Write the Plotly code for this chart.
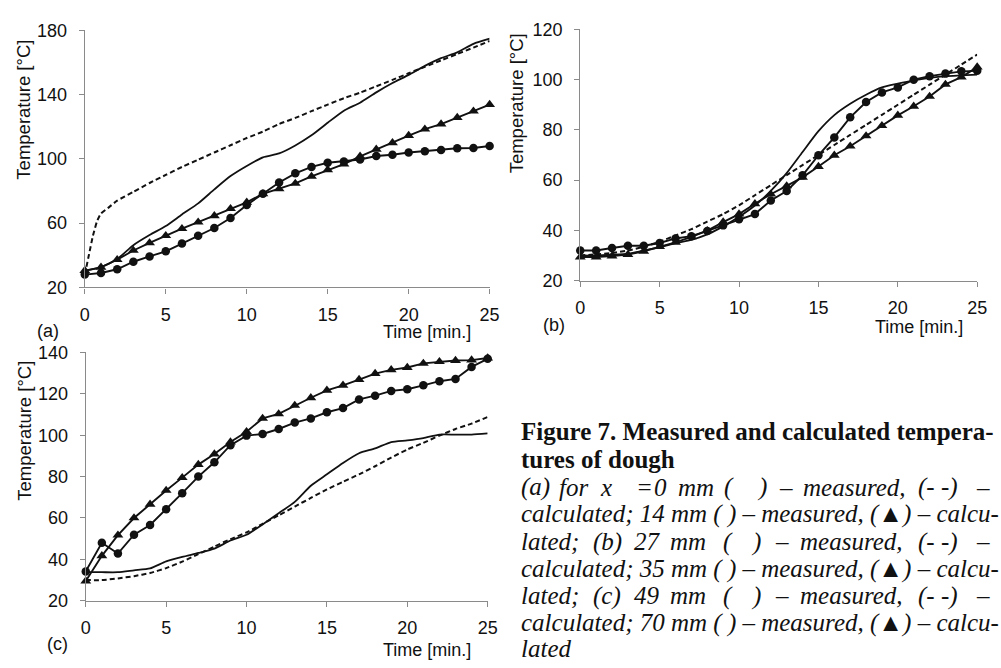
import plotly.graph_objects as go

W, H = 1001, 668

t = list(range(26))

# Panel (a)
a_meas_0mm = [30.5, 32.7, 37.7, 46.3, 52.6, 58.2, 65.4, 72.3, 81.0, 89.3, 95.6, 101.0, 103.4,
              108.4, 114.7, 122.5, 130.0, 135.0, 141.4, 147.2, 152.3, 157.9, 162.7, 166.3, 171.6, 174.8]
a_calc_0mm_t = [0, 0.25, 0.5, 0.75, 1, 1.5, 2, 3, 4, 5, 6, 7, 8, 9, 10, 11, 12, 13, 14, 15, 16,
                17, 18, 19, 20, 21, 22, 23, 24, 25]
a_calc_0mm = [28, 40, 52, 61, 66, 70, 74, 79.5, 85, 90, 95, 99.5, 104, 108.5, 113, 117, 121.7,
              125.5, 129.7, 133.8, 137.8, 141.2, 145.2, 149.2, 153.3, 157.3, 161.3, 165.3, 169.3, 173.4]
a_meas_14mm = [28, 29, 31.3, 36, 39.3, 42.5, 47.3, 52.2, 57, 63.2, 71.3, 78.3, 85.3, 91, 95, 97.6,
               98.4, 99.6, 101.8, 102.6, 104, 104.8, 105.6, 106.6, 106.8, 108]
a_calc_14mm = [30.5, 32.5, 37.3, 43, 47.7, 52.2, 56.6, 60.6, 64.6, 69, 73, 78.3, 81.3, 84.7, 89.1,
               93.2, 96.8, 101.6, 106, 110, 114.5, 118.5, 121.7, 125.7, 129.7, 133.8]

# Panel (b)
b_meas_27mm = [30, 30, 30.3, 30.7, 32, 33.2, 34.9, 36.2, 38.4, 41.6, 45.4, 49.9, 55.7, 62.8, 71.2,
               79.5, 85.9, 90.4, 94, 96.9, 98.4, 99.7, 100.7, 101.4, 101.7, 102]
b_calc_27mm = [30, 30.5, 31, 32, 33.5, 35.5, 38, 40.5, 43.5, 46.5, 50, 54, 58, 62, 66, 70, 74, 78,
               82, 86, 90, 94, 98, 102, 106, 110]
b_meas_35mm = [32, 32, 33, 33.9, 33.9, 35, 36.8, 37.7, 39.8, 42, 44.4, 46.5, 51.9, 55.7, 61.9, 69.9,
               77, 85, 91.1, 94.9, 96.9, 100, 101.4, 102.4, 103.3, 103.5]
b_calc_35mm = [29.4, 29.4, 29.8, 30.4, 31.7, 33.5, 35.2, 37.4, 39.9, 43.3, 46.5, 50.6, 54.4, 57.7,
               61.1, 65.4, 69.9, 73.5, 77.6, 81.7, 85.8, 89.4, 93.3, 98.1, 101, 105]

# Panel (c)
c_meas_49mm = [33.8, 33.8, 33.8, 34.7, 35.6, 39, 41.2, 43.1, 45.2, 49.1, 51.9, 56.9, 62.3, 67.8,
               75.6, 81.1, 86.6, 91.3, 93.6, 96.7, 97.5, 98.6, 100.3, 100.3, 100.3, 100.9]
c_calc_49mm = [30, 30, 30.8, 31.9, 33.4, 35.8, 38.9, 42.5, 46.2, 49.8, 53, 57.2, 61.3, 65.5, 69.7,
               73.8, 77.5, 81.1, 85, 89.2, 93.1, 96.3, 99.8, 103, 105.6, 108.8]
c_meas_70mm = [34.2, 48, 42.8, 51.9, 56.6, 64.2, 72, 80, 86.9, 95.2, 99.8, 100.6, 103, 106.1, 108.1,
               111.1, 113.1, 117.3, 119.1, 121.4, 122.2, 124.1, 126.1, 127.2, 133, 136.9]
c_calc_70mm = [29.5, 41.7, 51.7, 60, 66.6, 73.3, 79.5, 85.8, 90.9, 96.7, 101.7, 108.1, 110.3, 114.4,
               118.1, 121.7, 124.1, 126.9, 129.8, 131.6, 132.7, 134.7, 135.5, 136.1, 136.3, 137.3]

x_ticks = [0, 5, 10, 15, 20, 25]
a_yticks = [20, 60, 100, 140, 180]
b_yticks = [20, 40, 60, 80, 100, 120]
c_yticks = [20, 40, 60, 80, 100, 120, 140]

SANS = "Liberation Sans, Arial, sans-serif"
SERIF = "Liberation Serif, Times New Roman, serif"
INK = "#111111"
AX = "#8a8a8a"

fig = go.Figure()


def px_x(p):
    return p / W


def px_y(p):
    return 1 - p / H


panels = [
    ("1", (81, 492), (21, 286), [20, 180], a_yticks,
     [(t, a_meas_0mm, "meas"), (a_calc_0mm_t, a_calc_0mm, "dash"),
      (t, a_meas_14mm, "circle"), (t, a_calc_14mm, "triangle-up")]),
    ("2", (584, 987), (20, 279), [20, 120], b_yticks,
     [(t, b_meas_27mm, "meas"), (t, b_calc_27mm, "dash"),
      (t, b_meas_35mm, "circle"), (t, b_calc_35mm, "triangle-up")]),
    ("3", (82, 490), (353, 609), [20, 140], c_yticks,
     [(t, c_meas_49mm, "meas"), (t, c_calc_49mm, "dash"),
      (t, c_meas_70mm, "circle"), (t, c_calc_70mm, "triangle-up")]),
]

for name, xd, yd, yr, yt, series in panels:
    xa = "x" if name == "1" else "x" + name
    ya = "y" if name == "1" else "y" + name
    for xs, ys, kind in series:
        if kind == "meas":
            fig.add_trace(go.Scatter(x=xs, y=ys, xaxis=xa, yaxis=ya, mode="lines",
                                     line=dict(color=INK, width=1.8, shape="spline", smoothing=0.6),
                                     cliponaxis=False, showlegend=False))
        elif kind == "dash":
            fig.add_trace(go.Scatter(x=xs, y=ys, xaxis=xa, yaxis=ya, mode="lines",
                                     line=dict(color=INK, width=2, dash="5px,3px",
                                               shape="spline", smoothing=0.5),
                                     cliponaxis=False, showlegend=False))
        else:
            fig.add_trace(go.Scatter(x=xs, y=ys, xaxis=xa, yaxis=ya, mode="lines+markers",
                                     line=dict(color=INK, width=1.9),
                                     marker=dict(symbol=kind, color=INK,
                                                 size=8.5 if kind == "circle" else 9.5),
                                     cliponaxis=False, showlegend=False))
    axis_common = dict(showgrid=False, zeroline=False, showline=True, linecolor=AX, linewidth=1.2,
                       ticks="outside", ticklen=5, tickcolor=AX, tickwidth=1,
                       tickfont=dict(family=SANS, size=18, color=INK))
    fig.layout["xaxis" + ("" if name == "1" else name)] = dict(
        domain=[px_x(xd[0]), px_x(xd[1])], range=[0, 25], tickvals=x_ticks,
        anchor=ya, ticklabelstandoff=6, **axis_common)
    fig.layout["yaxis" + ("" if name == "1" else name)] = dict(
        domain=[px_y(yd[1]), px_y(yd[0])], range=yr, tickvals=yt,
        anchor=xa, ticklabelstandoff=8, **axis_common)

annotations = []


def ann(text, x, y, size=18, family=SANS, xanchor="center", angle=0, bold=False, italic=False):
    if bold:
        text = "<b>" + text + "</b>"
    if italic:
        text = "<i>" + text + "</i>"
    annotations.append(dict(text=text, x=px_x(x), y=px_y(y), xref="paper", yref="paper",
                            showarrow=False, xanchor=xanchor, yanchor="middle", textangle=angle,
                            font=dict(family=family, size=size, color=INK)))


# axis titles & panel labels
ann("Temperature [°C]", 19, 103, size=18.5, angle=-90)
ann("Temperature [°C]", 519, 96, size=18.5, angle=-90)
ann("Temperature [°C]", 19, 434, size=18.5, angle=-90)
ann("Time [min.]", 428, 332)
ann("Time [min.]", 928, 327)
ann("Time [min.]", 428, 660)
ann("(a)", 44, 331)
ann("(b)", 557, 325)
ann("(c)", 53, 654)

# caption
CS = 25
ann("Figure 7. Measured and calculated tempera-", 522, 435, size=CS, family=SERIF,
    xanchor="left", bold=True)
ann("tures of dough", 522, 463, size=CS, family=SERIF, xanchor="left", bold=True)

just_a = [("(a)", 521.7), ("for", 560), ("x", 601.7), ("=", 638.3), ("0", 656.7), ("mm", 681.7),
          ("(", 728.3), (")", 761.7), ("–", 783.3), ("measured,", 808.3), ("(- -)", 925),
          ("–", 983.3)]
for w, xx in just_a:
    ann(w, xx, 492, size=CS, family=SERIF, xanchor="left", italic=True)

for yy, lab, num in [(548, "(b)", "27"), (604, "(c)", "49")]:
    words = [("lated;", 521.7), (lab, 595), (num, 636.7), ("mm", 673.3), ("(", 726.7),
             (")", 755), ("–", 780), ("measured,", 805), ("(- -)", 925), ("–", 983.3)]
    for w, xx in words:
        ann(w, xx, yy, size=CS, family=SERIF, xanchor="left", italic=True)

for yy, num in [(520, "14"), (576, "35"), (632, "70")]:
    ann("calculated; " + num + " mm ( ) – measured, (▲) – calcu-", 522, yy, size=CS,
        family=SERIF, xanchor="left", italic=True)
ann("lated", 522, 658, size=CS, family=SERIF, xanchor="left", italic=True)

fig.update_layout(width=W, height=H, margin=dict(l=0, r=0, t=0, b=0),
                  paper_bgcolor="white", plot_bgcolor="white", annotations=annotations,
                  showlegend=False)

fig.write_html("out.html")
